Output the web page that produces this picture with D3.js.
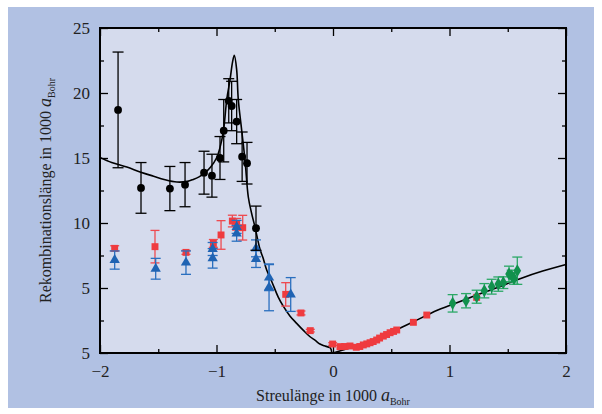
<!DOCTYPE html>
<html>
<head>
<meta charset="utf-8">
<script src="https://cdn.jsdelivr.net/npm/d3@7"></script>
<style>
	body { margin: 0; background: #fff; }
	text { font-family: "Liberation Serif", "DejaVu Serif", serif; fill: #222; }
</style>
</head>
<body>
<svg id="chart" width="602" height="414"></svg>
<script>
// tick values and labels
const xMajor = [-2, -1, 0, 1, 2]
const xMinor = [-1.5, -0.5, 0.5, 1.5]
const xTickLabels = ["\u22122", "\u22121", "0", "1", "2"]
const yMajor = [0, 5, 10, 15, 20, 25]
const yMinor = [2.5, 7.5, 12.5, 17.5, 22.5]
const yTickLabels = ["5", "5", "10", "15", "20", "25"]

// black circles (measured)
const blackX = [-1.845, -1.648, -1.40, -1.27, -1.107, -1.039, -0.97, -0.938, -0.895, -0.87, -0.827, -0.78, -0.738, -0.661]
const blackY = [18.7, 12.7, 12.65, 12.95, 13.87, 13.64, 15.0, 17.1, 19.4, 19.0, 17.8, 15.1, 14.6, 9.6]
const blackErr = [4.45, 1.95, 1.7, 1.7, 1.65, 1.65, 1.65, 2.4, 1.7, 1.9, 1.7, 1.9, 1.6, 1.7]

// red squares
const redX = [-1.874, -1.528, -1.262, -1.027, -0.961, -0.864, -0.827, -0.775, -0.406, -0.275, -0.195, -0.003, 0.06, 0.10, 0.146, 0.2, 0.23, 0.26, 0.29, 0.318, 0.345, 0.375, 0.40, 0.432, 0.46, 0.49, 0.52, 0.547, 0.69, 0.805, 1.233]
const redY = [8.05, 8.18, 7.74, 8.43, 9.08, 10.15, 9.9, 9.64, 4.51, 3.08, 1.72, 0.69, 0.49, 0.5, 0.54, 0.44, 0.5, 0.62, 0.7, 0.79, 0.88, 1.0, 1.15, 1.3, 1.42, 1.56, 1.66, 1.77, 2.36, 2.92, 4.28]
const redErr = [0.2, 1.25, 0.15, 0.3, 1.1, 0.45, 0.45, 0.95, 0.9, 0.15, 0.1, 0.1, 0, 0, 0, 0, 0, 0, 0, 0, 0, 0, 0, 0, 0, 0, 0, 0, 0, 0, 0]

// blue triangles
const blueX = [-1.874, -1.522, -1.262, -1.033, -1.033, -0.827, -0.827, -0.661, -0.661, -0.549, -0.549, -0.363]
const blueY = [7.15, 6.48, 6.95, 8.0, 7.28, 9.7, 9.2, 8.05, 7.23, 5.8, 5.05, 4.5]
const blueErr = [0.7, 0.8, 0.9, 0.5, 0.75, 0.5, 0.6, 0.65, 0.65, 1.0, 1.8, 1.3]

// green diamonds
const greenX = [1.027, 1.142, 1.233, 1.299, 1.362, 1.419, 1.462, 1.511, 1.534, 1.554, 1.582]
const greenY = [3.82, 4.02, 4.33, 4.79, 5.1, 5.3, 5.41, 6.08, 5.92, 5.74, 6.33]
const greenErr = [0.67, 0.55, 0.5, 0.55, 0.57, 0.55, 0.45, 0.6, 0.45, 0.45, 1.05]

// theory curve
const leftCurveX = [-2.0, -1.9, -1.77, -1.65, -1.54, -1.45, -1.34, -1.25, -1.2, -1.15, -1.1, -1.05, -1.0, -0.97, -0.94, -0.912, -0.884, -0.862, -0.847, -0.827, -0.813, -0.784, -0.755, -0.727, -0.70, -0.67, -0.627, -0.6, -0.57, -0.526, -0.47, -0.427, -0.37, -0.312, -0.25, -0.197, -0.15, -0.112, -0.075, -0.045, -0.022, -0.01]
const leftCurveY = [15.05, 14.65, 14.3, 13.9, 13.6, 13.35, 13.15, 13.2, 13.35, 13.55, 13.85, 14.3, 15.0, 15.8, 17.1, 19.5, 21.0, 22.4, 22.9, 21.8, 19.5, 17.15, 14.8, 12.0, 10.8, 9.7, 8.0, 7.3, 6.4, 5.5, 4.3, 3.6, 2.85, 2.28, 1.7, 1.25, 0.95, 0.69, 0.55, 0.47, 0.38, 0.0]
const rightCurveX = [0.0, 0.05, 0.1, 0.2, 0.3, 0.4, 0.5, 0.6, 0.7, 0.8, 0.9, 1.0, 1.2, 1.4, 1.6, 1.8, 2.0]
const rightCurveY = [0.0, 0.14, 0.27, 0.52, 0.85, 1.22, 1.6, 2.02, 2.45, 2.88, 3.3, 3.65, 4.35, 5.0, 5.7, 6.3, 6.8]

const plotLeft = 100
const plotRight = 566
const plotTop = 28
const plotBottom = 353

const svg = d3.select("#chart")

// backgrounds
svg.append("rect")
	.attr("x", 8).attr("y", 7)
	.attr("width", 586).attr("height", 401)
	.attr("fill", "#b1c1e3")

svg.append("rect")
	.attr("x", plotLeft).attr("y", plotTop)
	.attr("width", plotRight - plotLeft).attr("height", plotBottom - plotTop)
	.attr("fill", "#d5dbed")

const x = d3.scaleLinear().domain([-2, 2]).range([plotLeft, plotRight])
const y = d3.scaleLinear().domain([0, 25]).range([plotBottom, plotTop])

function styleAxis(g) {
	g.select(".domain").remove()
	g.selectAll(".tick line").attr("stroke", "#000").attr("stroke-width", 1.3)
	g.selectAll(".tick text")
		.style("font-family", "'Liberation Serif', serif")
		.style("font-size", "17px")
		.attr("fill", "#1a1a1a")
}

// bottom axis with labels
svg.append("g")
	.attr("transform", `translate(0,${plotBottom})`)
	.call(d3.axisBottom(x).tickValues(xMajor).tickSize(-8).tickPadding(12)
		.tickFormat((d, i) => xTickLabels[i]))
	.call(styleAxis)
svg.append("g")
	.attr("transform", `translate(0,${plotBottom})`)
	.call(d3.axisBottom(x).tickValues(xMinor).tickSize(-4).tickFormat(""))
	.call(styleAxis)

// top axis
svg.append("g")
	.attr("transform", `translate(0,${plotTop})`)
	.call(d3.axisTop(x).tickValues(xMajor).tickSize(-8).tickFormat(""))
	.call(styleAxis)
svg.append("g")
	.attr("transform", `translate(0,${plotTop})`)
	.call(d3.axisTop(x).tickValues(xMinor).tickSize(-4).tickFormat(""))
	.call(styleAxis)

// left axis with labels
svg.append("g")
	.attr("transform", `translate(${plotLeft},0)`)
	.call(d3.axisLeft(y).tickValues(yMajor).tickSize(-8).tickPadding(10)
		.tickFormat((d, i) => yTickLabels[i]))
	.call(styleAxis)
svg.append("g")
	.attr("transform", `translate(${plotLeft},0)`)
	.call(d3.axisLeft(y).tickValues(yMinor).tickSize(-4).tickFormat(""))
	.call(styleAxis)

// right axis
svg.append("g")
	.attr("transform", `translate(${plotRight},0)`)
	.call(d3.axisRight(y).tickValues(yMajor).tickSize(-8).tickFormat(""))
	.call(styleAxis)
svg.append("g")
	.attr("transform", `translate(${plotRight},0)`)
	.call(d3.axisRight(y).tickValues(yMinor).tickSize(-4).tickFormat(""))
	.call(styleAxis)

const plot = svg.append("g")

// theory curve
const line = d3.line()
	.x(d => x(d[0]))
	.y(d => y(d[1]))
	.curve(d3.curveCatmullRom.alpha(0.5))

plot.append("path")
	.datum(d3.zip(leftCurveX, leftCurveY))
	.attr("d", line)
	.attr("fill", "none")
	.attr("stroke", "#000")
	.attr("stroke-width", 1.6)

plot.append("path")
	.datum(d3.zip(rightCurveX, rightCurveY))
	.attr("d", line)
	.attr("fill", "none")
	.attr("stroke", "#000")
	.attr("stroke-width", 1.6)

// error bars and markers for one series
function drawSeries(xs, ys, errs, opts) {
	const data = d3.zip(xs, ys, errs)
	const g = plot.append("g")
	const cap = opts.cap

	const bars = g.selectAll(".bar")
		.data(data.filter(d => d[2] > 0))
		.enter().append("g")
		.attr("stroke", opts.barColor)
		.attr("stroke-width", 1.3)

	bars.append("line")
		.attr("x1", d => x(d[0])).attr("x2", d => x(d[0]))
		.attr("y1", d => y(d[1] - d[2])).attr("y2", d => y(d[1] + d[2]))
	bars.append("line")
		.attr("x1", d => x(d[0]) - cap).attr("x2", d => x(d[0]) + cap)
		.attr("y1", d => y(d[1] + d[2])).attr("y2", d => y(d[1] + d[2]))
	bars.append("line")
		.attr("x1", d => x(d[0]) - cap).attr("x2", d => x(d[0]) + cap)
		.attr("y1", d => y(d[1] - d[2])).attr("y2", d => y(d[1] - d[2]))

	g.selectAll(".marker")
		.data(data)
		.enter().append("path")
		.attr("d", d3.symbol().type(opts.symbol).size(opts.size))
		.attr("transform", d => `translate(${x(d[0])},${y(d[1])})`)
		.attr("fill", opts.color)
}

drawSeries(redX, redY, redErr, { color: "#ef3b3f", barColor: "#ee4a50", cap: 4.5, symbol: d3.symbolSquare, size: 48 })
drawSeries(blueX, blueY, blueErr, { color: "#1f63b3", barColor: "#2a6fbf", cap: 5, symbol: d3.symbolTriangle, size: 46 })
drawSeries(greenX, greenY, greenErr, { color: "#11914d", barColor: "#2ba866", cap: 5, symbol: d3.symbolDiamond, size: 50 })
drawSeries(blackX, blackY, blackErr, { color: "#000", barColor: "#000", cap: 5.5, symbol: d3.symbolCircle, size: 48 })

// frame
svg.append("rect")
	.attr("x", plotLeft).attr("y", plotTop)
	.attr("width", plotRight - plotLeft).attr("height", plotBottom - plotTop)
	.attr("fill", "none")
	.attr("stroke", "#000")
	.attr("stroke-width", 2)

// axis titles
const xTitle = svg.append("text")
	.attr("x", (plotLeft + plotRight) / 2)
	.attr("y", 401)
	.attr("text-anchor", "middle")
	.style("font-size", "16px")
xTitle.append("tspan").text("Streulänge in 1000 ")
xTitle.append("tspan").text("a").style("font-style", "italic").style("font-size", "18px")
xTitle.append("tspan").text("Bohr").attr("dy", 4).style("font-size", "10px")

const yTitle = svg.append("text")
	.attr("transform", `translate(51,${(plotTop + plotBottom) / 2}) rotate(-90)`)
	.attr("text-anchor", "middle")
	.style("font-size", "16px")
yTitle.append("tspan").text("Rekombinationslänge in 1000 ")
yTitle.append("tspan").text("a").style("font-style", "italic").style("font-size", "18px")
yTitle.append("tspan").text("Bohr").attr("dy", 4).style("font-size", "10px")
</script>
</body>
</html>
